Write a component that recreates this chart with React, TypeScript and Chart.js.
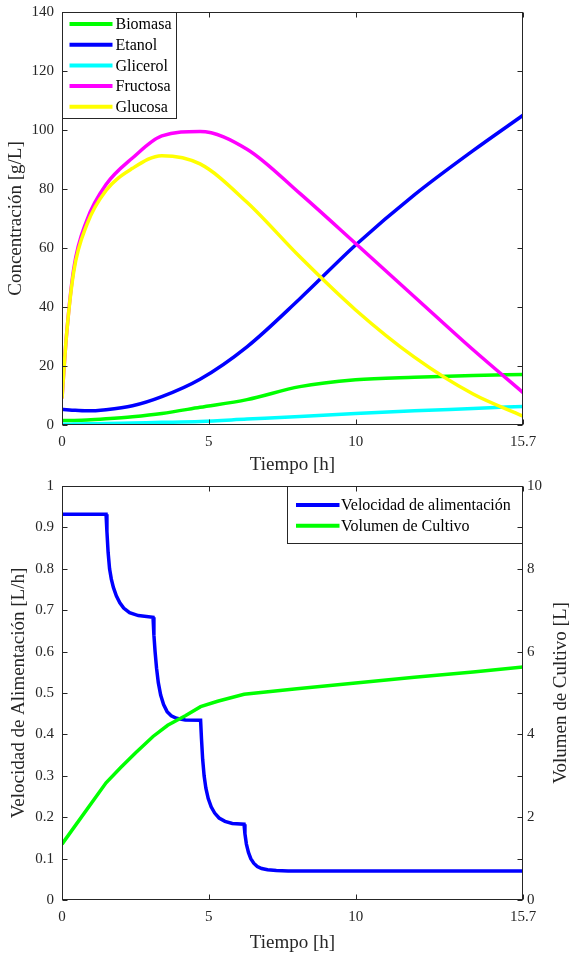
import React, { useEffect, useRef } from 'react';
import { Chart, registerables } from 'chart.js';
Chart.register(...registerables);

const FONT = '"Liberation Serif", "Times New Roman", serif';
const AXIS = '#262626';

// ---- Top chart data ----
const timeTop = [0, 0.15, 0.4, 0.85, 1.5, 2.4, 3.4, 4.7, 6.3, 8.1, 10, 12, 14, 15.7];
const biomasa = [1.5, 1.5, 1.55, 1.7, 2.1, 2.8, 3.9, 6.0, 8.6, 13.0, 15.3, 16.2, 16.8, 17.1];
const etanol = [5.3, 5.2, 5.0, 4.8, 5.2, 6.5, 9.6, 15.5, 26.5, 42.8, 61.0, 78.0, 93.0, 105.0];
const glicerol = [0.2, 0.25, 0.3, 0.4, 0.5, 0.7, 0.9, 1.2, 2.0, 2.9, 3.9, 4.8, 5.6, 6.3];
const fructosa = [9, 30, 53, 69.5, 81.5, 90.5, 98, 99.5, 93.5, 78.5, 61.5, 43.5, 25.5, 11];
const glucosa = [9, 30, 52, 68, 79.5, 87, 91.3, 88.5, 75.5, 57, 39, 23, 10.5, 3];
const topLabels = ['Biomasa', 'Etanol', 'Glicerol', 'Fructosa', 'Glucosa'];
const topColors = ['#00ff00', '#0000ff', '#00ffff', '#ff00ff', '#ffff00'];

// ---- Bottom chart data ----
const feedTime = [
  0, 1.5, 1.53, 1.57, 1.62, 1.68, 1.75, 1.85, 1.97, 2.1, 2.3, 2.6, 3.1,
  3.13, 3.17, 3.22, 3.28, 3.36, 3.46, 3.58, 3.72, 3.9, 4.2, 4.72,
  4.75, 4.79, 4.84, 4.9, 4.98, 5.08, 5.2, 5.35, 5.55, 5.8, 6.2,
  6.23, 6.28, 6.35, 6.43, 6.53, 6.65, 6.8, 7.0, 7.3, 7.7, 15.7,
];
const feedRate = [
  0.932, 0.932, 0.89, 0.84, 0.8, 0.775, 0.755, 0.735, 0.718, 0.705, 0.694, 0.687, 0.683,
  0.64, 0.6, 0.56, 0.525, 0.495, 0.472, 0.455, 0.445, 0.439, 0.435, 0.434,
  0.39, 0.34, 0.3, 0.27, 0.245, 0.225, 0.21, 0.198, 0.19, 0.185, 0.183,
  0.16, 0.135, 0.115, 0.1, 0.089, 0.081, 0.076, 0.073, 0.071, 0.07, 0.07,
];
const volTime = [0, 1.5, 2.0, 2.5, 3.1, 3.6, 4.2, 4.72, 5.3, 6.2, 8, 10, 12, 14, 15.7];
const volume = [1.35, 2.83, 3.2, 3.55, 3.95, 4.22, 4.45, 4.67, 4.8, 4.97, 5.1, 5.24, 5.38, 5.51, 5.63];

// ---- Ticks ----
const xTicks = [0, 5, 10, 15.7];
const concTicks = [0, 20, 40, 60, 80, 100, 120, 140];
const feedTicks = [0, 0.1, 0.2, 0.3, 0.4, 0.5, 0.6, 0.7, 0.8, 0.9, 1];
const volTicks = [0, 1, 2, 3, 4, 5, 6, 7, 8, 9, 10];
const volTickLabels = ['0', '', '2', '', '4', '', '6', '', '8', '', '10'];

const matlabPlugin = {
  id: 'matlab',
  afterDraw(chart: any, _args: any, opts: any) {
    const { ctx, chartArea: a } = chart;
    const L = Math.round(a.left) + 0.5;
    const R = Math.round(a.right) - 0.5;
    const T = Math.round(a.top) + 0.5;
    const B = Math.round(a.bottom) - 0.5;
    const tl = 5;
    ctx.save();
    const lg = opts.legend;
    if (lg) {
      const x0 = lg.anchor === 'left' ? L : R - lg.width;
      const y0 = T;
      ctx.fillStyle = '#ffffff';
      ctx.fillRect(x0, y0, lg.width, lg.height);
      ctx.strokeStyle = AXIS;
      ctx.lineWidth = 1;
      ctx.strokeRect(x0, y0, lg.width, lg.height);
      ctx.font = `16px ${FONT}`;
      ctx.textBaseline = 'middle';
      ctx.textAlign = 'left';
      chart.data.datasets.forEach((ds: any, i: number) => {
        const y = y0 + lg.firstY + i * lg.rowH;
        ctx.strokeStyle = ds.borderColor;
        ctx.lineWidth = 4;
        ctx.beginPath();
        ctx.moveTo(x0 + lg.lineStart, y);
        ctx.lineTo(x0 + lg.lineEnd, y);
        ctx.stroke();
        ctx.fillStyle = '#000000';
        ctx.fillText(ds.label, x0 + lg.textX, y + 1);
      });
    }
    ctx.strokeStyle = AXIS;
    ctx.lineWidth = 1;
    ctx.strokeRect(L, T, R - L, B - T);
    ctx.beginPath();
    const xs = chart.scales.x;
    xs.ticks.forEach((t: any) => {
      const px = Math.round(xs.getPixelForValue(t.value)) + 0.5;
      ctx.moveTo(px, B); ctx.lineTo(px, B - tl);
      ctx.moveTo(px, T); ctx.lineTo(px, T + tl);
    });
    const ys = chart.scales.y;
    const y2 = chart.scales.y2;
    ys.ticks.forEach((t: any) => {
      const py = Math.round(ys.getPixelForValue(t.value)) + 0.5;
      ctx.moveTo(L, py); ctx.lineTo(L + tl, py);
      if (!y2) { ctx.moveTo(R, py); ctx.lineTo(R - tl, py); }
    });
    if (y2) {
      y2.ticks.forEach((t: any) => {
        const py = Math.round(y2.getPixelForValue(t.value)) + 0.5;
        ctx.moveTo(R, py); ctx.lineTo(R - tl, py);
      });
    }
    ctx.stroke();
    if (opts.rightTitle) {
      ctx.save();
      ctx.translate(opts.rightTitle.x, (a.top + a.bottom) / 2);
      ctx.rotate(-Math.PI / 2);
      ctx.fillStyle = AXIS;
      ctx.font = `19px ${FONT}`;
      ctx.textAlign = 'center';
      ctx.textBaseline = 'middle';
      ctx.fillText(opts.rightTitle.text, 0, 0);
      ctx.restore();
    }
    ctx.restore();
  },
};

const tickFont = { family: FONT, size: 15, lineHeight: 1 };
const titleFont = { family: FONT, size: 19 };

function zeroPad(s: any) {
  s.paddingTop = 0;
  s.paddingBottom = 0;
  s.paddingLeft = 0;
  s.paddingRight = 0;
}

function xScale(height: number) {
  return {
    type: 'linear',
    min: 0,
    max: 15.7,
    afterBuildTicks: (s: any) => { s.ticks = xTicks.map((v) => ({ value: v })); },
    afterFit: (s: any) => { s.height = height; zeroPad(s); },
    grid: { display: false, drawTicks: false },
    border: { display: false },
    ticks: { autoSkip: false, maxRotation: 0, padding: 10, color: AXIS, font: tickFont, callback: (_v: any, i: number) => String(xTicks[i]) },
    title: { display: true, text: 'Tiempo [h]', color: AXIS, font: titleFont, padding: { top: 0, bottom: 2 } },
  };
}

export default function App() {
  const topRef = useRef<HTMLCanvasElement>(null);
  const botRef = useRef<HTMLCanvasElement>(null);

  useEffect(() => {
    const series = [biomasa, etanol, glicerol, fructosa, glucosa];
    const top = new Chart(topRef.current as HTMLCanvasElement, {
      type: 'line',
      data: {
        datasets: series.map((vals, i) => ({
          label: topLabels[i],
          data: timeTop.map((t, j) => ({ x: t, y: vals[j] })),
          borderColor: topColors[i],
          backgroundColor: topColors[i],
          borderWidth: 3.5,
          pointRadius: 0,
          cubicInterpolationMode: 'monotone',
          fill: false,
          order: 10 - i,
        })),
      },
      options: {
        responsive: false,
        animation: false,
        layout: { padding: { top: 12, right: 49, bottom: 0, left: 0 } },
        plugins: {
          legend: { display: false },
          tooltip: { enabled: false },
          matlab: { legend: { anchor: 'left', width: 114, height: 106, firstY: 11.5, rowH: 20.7, lineStart: 7, lineEnd: 50, textX: 53 } },
        } as any,
        scales: {
          x: xScale(53) as any,
          y: {
            type: 'linear',
            min: 0,
            max: 140,
            afterBuildTicks: (s: any) => { s.ticks = concTicks.map((v) => ({ value: v })); },
            afterFit: (s: any) => { s.width = 62; zeroPad(s); },
            grid: { display: false, drawTicks: false },
            border: { display: false },
            ticks: { autoSkip: false, padding: 8, color: AXIS, font: tickFont, callback: (_v: any, i: number) => String(concTicks[i]) },
            title: { display: true, text: 'Concentración [g/L]', color: AXIS, font: titleFont, padding: { top: 5, bottom: 0 } },
          } as any,
        },
      },
      plugins: [matlabPlugin as any],
    });

    const bot = new Chart(botRef.current as HTMLCanvasElement, {
      type: 'line',
      data: {
        datasets: [
          {
            label: 'Velocidad de alimentación',
            data: feedTime.map((t, j) => ({ x: t, y: feedRate[j] })),
            borderColor: '#0000ff',
            backgroundColor: '#0000ff',
            borderWidth: 3.5,
            pointRadius: 0,
            tension: 0,
            fill: false,
            yAxisID: 'y',
            order: 2,
          },
          {
            label: 'Volumen de Cultivo',
            data: volTime.map((t, j) => ({ x: t, y: volume[j] })),
            borderColor: '#00ff00',
            backgroundColor: '#00ff00',
            borderWidth: 3.5,
            pointRadius: 0,
            tension: 0,
            fill: false,
            yAxisID: 'y2',
            order: 1,
          },
        ],
      },
      options: {
        responsive: false,
        animation: false,
        layout: { padding: { top: 8, right: 0, bottom: 0, left: 0 } },
        plugins: {
          legend: { display: false },
          tooltip: { enabled: false },
          matlab: {
            legend: { anchor: 'right', width: 235, height: 57, firstY: 18.5, rowH: 20.7, lineStart: 8.5, lineEnd: 52, textX: 53.5 },
            rightTitle: { text: 'Volumen de Cultivo [L]', x: 561 },
          },
        } as any,
        scales: {
          x: xScale(56) as any,
          y: {
            type: 'linear',
            position: 'left',
            min: 0,
            max: 1,
            afterBuildTicks: (s: any) => { s.ticks = feedTicks.map((v) => ({ value: v })); },
            afterFit: (s: any) => { s.width = 62; zeroPad(s); },
            grid: { display: false, drawTicks: false },
            border: { display: false },
            ticks: { autoSkip: false, padding: 8, color: AXIS, font: tickFont, callback: (_v: any, i: number) => String(feedTicks[i]) },
            title: { display: true, text: 'Velocidad de Alimentación [L/h]', color: AXIS, font: titleFont, padding: { top: 8, bottom: 0 } },
          } as any,
          y2: {
            type: 'linear',
            position: 'right',
            min: 0,
            max: 10,
            afterBuildTicks: (s: any) => { s.ticks = volTicks.map((v) => ({ value: v })); },
            afterFit: (s: any) => { s.width = 49; zeroPad(s); },
            grid: { display: false, drawTicks: false },
            border: { display: false },
            ticks: { autoSkip: false, padding: 4, color: AXIS, font: tickFont, callback: (_v: any, i: number) => volTickLabels[i] },
          } as any,
        },
      },
      plugins: [matlabPlugin as any],
    });

    return () => { top.destroy(); bot.destroy(); };
  }, []);

  return (
    <div style={{ position: 'absolute', left: 0, top: 0, width: 572, height: 956, background: '#ffffff' }}>
      <canvas ref={topRef} width={572} height={478} style={{ display: 'block', width: 572, height: 478 }} />
      <canvas ref={botRef} width={572} height={478} style={{ display: 'block', width: 572, height: 478 }} />
    </div>
  );
}
